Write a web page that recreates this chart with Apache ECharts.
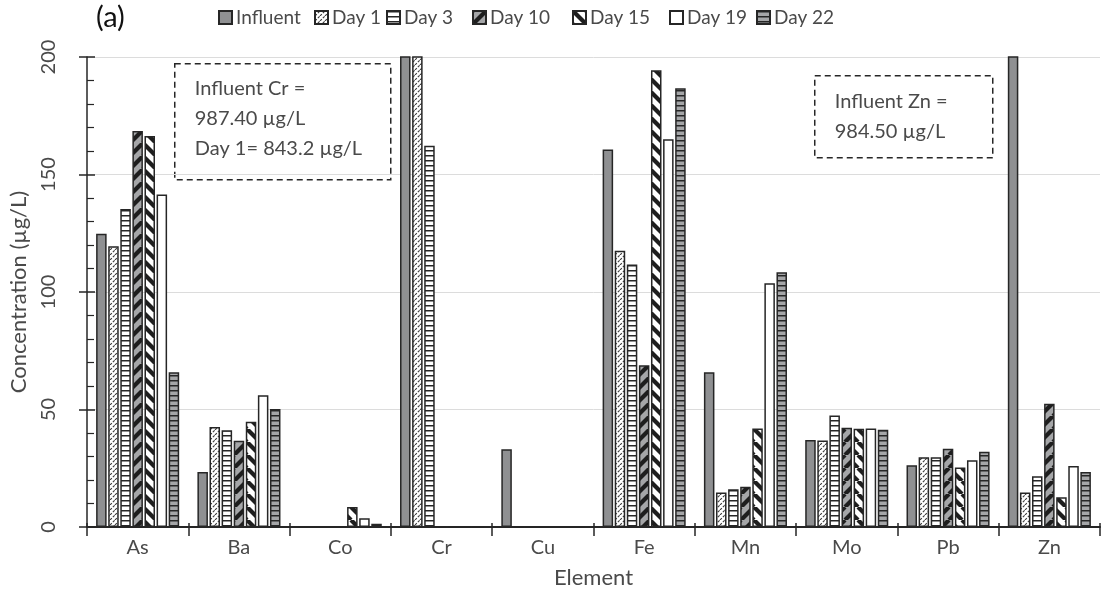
<!DOCTYPE html>
<html>
<head>
<meta charset="utf-8">
<script src="https://cdn.jsdelivr.net/npm/echarts@6/dist/echarts.min.js"></script>
<style>
  html, body { margin: 0; padding: 0; background: #fff; }
  #chart { width: 1102px; height: 603px; }
</style>
</head>
<body>
<div id="chart"></div>
<script>
// Element concentrations (µg/L) in influent and effluent samples
const categories = ['As', 'Ba', 'Co', 'Cr', 'Cu', 'Fe', 'Mn', 'Mo', 'Pb', 'Zn'];
const seriesNames = ['Influent', 'Day 1', 'Day 3', 'Day 10', 'Day 15', 'Day 19', 'Day 22'];
const influent = [124.8, 23.4, 0, 987.4, 33.1, 160.6, 65.9, 37.0, 26.3, 984.5];
const day1 = [119.5, 42.6, 0, 843.2, 0, 117.6, 14.7, 36.8, 29.7, 14.7];
const day3 = [135.3, 41.2, 0, 162.2, 0, 111.7, 16.1, 47.5, 29.7, 21.6];
const day10 = [168.5, 36.7, 0, 0, 0, 68.8, 17.1, 42.2, 33.3, 52.4];
const day15 = [166.4, 44.8, 8.5, 0, 0, 194.4, 41.9, 41.8, 25.3, 12.7];
const day19 = [141.5, 56.1, 3.7, 0, 0, 165.0, 103.7, 41.9, 28.4, 26.0];
const day22 = [65.9, 50.2, 1.4, 0, 0, 186.7, 108.4, 41.4, 32.0, 23.4];
const yTicks = [0, 50, 100, 150, 200];

const FONT = 'Lato';
const INK = '#262626';
const TEXT = '#4a4a4a';

// Fill patterns drawn on small tiles
function tile(w, h, bg, draw) {
  const c = document.createElement('canvas');
  c.width = w; c.height = h;
  const ctx = c.getContext('2d');
  ctx.fillStyle = bg;
  ctx.fillRect(0, 0, w, h);
  draw && draw(ctx, w, h);
  return { image: c, repeat: 'repeat' };
}
const solidGray = '#8f9092';
const patterns = [
  solidGray,
  // fine dashed diagonal
  tile(5, 5, '#ffffff', (ctx, w, h) => {
    ctx.strokeStyle = '#3a3a3a';
    ctx.lineWidth = 1.1;
    ctx.setLineDash([2.6, 1.4]);
    for (let k = -1; k <= 1; k++) {
      ctx.beginPath();
      ctx.moveTo(k * w, h);
      ctx.lineTo(k * w + w, 0);
      ctx.stroke();
    }
  }),
  // horizontal rules on white
  tile(6, 5, '#ffffff', (ctx, w) => {
    ctx.fillStyle = INK;
    ctx.fillRect(0, 0, w, 1.5);
  }),
  // heavy "/" stripes on gray
  tile(13, 13, '#a5a6a8', (ctx, w, h) => {
    ctx.strokeStyle = '#1e1e1e';
    ctx.lineWidth = 4.2;
    for (let k = -1; k <= 1; k++) {
      ctx.beginPath();
      ctx.moveTo(k * w, h);
      ctx.lineTo(k * w + w, 0);
      ctx.stroke();
    }
  }),
  // heavy "\" stripes on white
  tile(13, 13, '#ffffff', (ctx, w, h) => {
    ctx.strokeStyle = '#1e1e1e';
    ctx.lineWidth = 4.2;
    for (let k = -1; k <= 1; k++) {
      ctx.beginPath();
      ctx.moveTo(k * w, 0);
      ctx.lineTo(k * w + w, h);
      ctx.stroke();
    }
  }),
  '#ffffff',
  // horizontal rules on gray
  tile(6, 5, '#a5a6a8', (ctx, w) => {
    ctx.fillStyle = INK;
    ctx.fillRect(0, 0, w, 1.5);
  })
];
const seriesData = [influent, day1, day3, day10, day15, day19, day22];

const series = seriesNames.map((name, i) => ({
  name,
  type: 'bar',
  xAxisIndex: 0,
  yAxisIndex: 0,
  data: seriesData[i],
  barGap: '15%',
  barCategoryGap: '18%',
  clip: true,
  itemStyle: { color: patterns[i], borderColor: INK, borderWidth: 1.5 },
  emphasis: { disabled: true },
  animation: false
}));

// one legend block per entry so each sits at its own spot
const legendLeft = [213, 309, 381, 467, 567, 664, 751];
const legends = seriesNames.map((name, i) => ({
  data: [name],
  left: legendLeft[i],
  top: 3,
  icon: 'rect',
  itemWidth: 13,
  itemHeight: 13,
  itemGap: 4,
  selectedMode: false,
  textStyle: { fontFamily: FONT, fontSize: 19, color: TEXT, padding: [0, 0, 0, -1] }
}));

const crNote = 'Influent Cr =\n' + influent[3].toFixed(2) + ' µg/L\nDay 1= ' + day1[3].toFixed(1) + ' µg/L';
const znNote = 'Influent Zn =\n' + influent[9].toFixed(2) + ' µg/L';

const chart = echarts.init(document.getElementById('chart'), null, { renderer: 'canvas' });
chart.setOption({
  animation: false,
  backgroundColor: '#ffffff',
  textStyle: { fontFamily: FONT },
  grid: { left: 81, right: 2, top: 57, bottom: 76, containLabel: false },
  legend: legends,
  xAxis: [
    {
      type: 'category',
      data: categories,
      position: 'bottom',
      name: 'Element',
      nameLocation: 'middle',
      nameGap: 40,
      nameTextStyle: { fontFamily: FONT, fontSize: 22, color: TEXT },
      axisLine: { show: true, lineStyle: { color: INK, width: 2 } },
      axisTick: { show: true, inside: false, length: 9, interval: 0, lineStyle: { color: INK, width: 1.5 } },
      axisLabel: { fontFamily: FONT, fontSize: 20, color: TEXT, margin: 11 },
      splitLine: { show: false }
    },
    {
      type: 'category',
      data: categories,
      position: 'bottom',
      axisLine: { show: false },
      axisTick: { show: true, inside: true, length: 4, interval: 0, lineStyle: { color: INK, width: 1.5 } },
      axisLabel: { show: false },
      splitLine: { show: false }
    }
  ],
  yAxis: [
    {
      type: 'value',
      min: yTicks[0],
      max: yTicks[yTicks.length - 1],
      interval: yTicks[1] - yTicks[0],
      position: 'left',
      name: 'Concentration (µg/L)',
      nameLocation: 'middle',
      nameGap: 57,
      nameTextStyle: { fontFamily: FONT, fontSize: 22, color: TEXT },
      axisLine: { show: true, lineStyle: { color: INK, width: 1.5 } },
      axisTick: { show: true, inside: true, length: 8, lineStyle: { color: INK, width: 1.5 } },
      minorTick: { show: true, splitNumber: 5, length: 7, lineStyle: { color: INK, width: 1.2 } },
      axisLabel: { rotate: 90, fontFamily: FONT, fontSize: 20, color: TEXT, margin: 28 },
      splitLine: { show: true, lineStyle: { color: '#dcdcdc', width: 1 } }
    },
    {
      type: 'value',
      min: yTicks[0],
      max: yTicks[yTicks.length - 1],
      interval: yTicks[1] - yTicks[0],
      position: 'left',
      axisLine: { show: false },
      axisTick: { show: true, inside: false, length: 8, lineStyle: { color: INK, width: 1.5 } },
      axisLabel: { show: false },
      splitLine: { show: false }
    }
  ],
  graphic: [
    {
      type: 'text',
      left: 96, top: 3,
      style: { text: '(a)', fontFamily: FONT, fontSize: 29, fill: '#111' }
    },
    {
      type: 'group',
      left: 174, top: 63,
      z: 100,
      children: [
        { type: 'rect', shape: { x: 0, y: 0, width: 216, height: 116 },
          style: { fill: '#fff', stroke: INK, lineWidth: 1.5, lineDash: [6, 4] } },
        { type: 'text', x: 20, y: 10,
          style: { text: crNote, fontFamily: FONT, fontSize: 20, lineHeight: 30, fill: TEXT } }
      ]
    },
    {
      type: 'group',
      left: 814, top: 75,
      z: 100,
      children: [
        { type: 'rect', shape: { x: 0, y: 0, width: 178, height: 82 },
          style: { fill: '#fff', stroke: INK, lineWidth: 1.5, lineDash: [6, 4] } },
        { type: 'text', x: 20, y: 11,
          style: { text: znNote, fontFamily: FONT, fontSize: 20, lineHeight: 30, fill: TEXT } }
      ]
    }
  ],
  series
});
</script>
</body>
</html>
